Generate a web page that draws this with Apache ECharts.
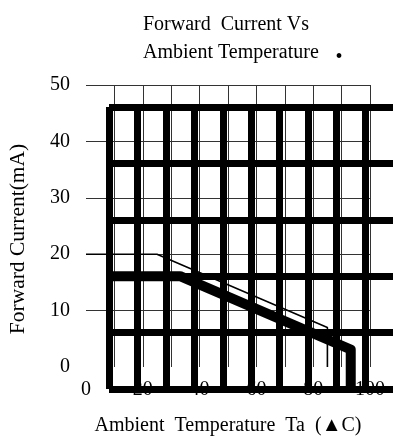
<!DOCTYPE html>
<html>
<head>
<meta charset="utf-8">
<script src="https://cdn.jsdelivr.net/npm/echarts@6/dist/echarts.min.js"></script>
<style>
  html, body {margin: 0; padding: 0; background: #fff;}
  #chart {width: 393px; height: 443px;}
</style>
</head>
<body>
<div id="chart"></div>
<script>
// derating curve: temperature (deg C) vs max forward current (mA)
const temps = [0, 25, 85, 85];
const currents = [20, 20, 7, 0];
const xLabelValues = [0, 20, 40, 60, 80, 100];

const font = 'Liberation Serif';
const curve = temps.map((t, i) => [t, currents[i]]);

const myChart = echarts.init(document.getElementById('chart'));
myChart.setOption({
  animation: false,
  title: {
    text: 'Forward  Current Vs\nAmbient Temperature',
    left: 138,
    top: 6,
    textStyle: {fontFamily: font, fontSize: 20, fontWeight: 'normal', color: '#000', lineHeight: 28}
  },
  graphic: [{
    type: 'text',
    style: {text: '•', x: 339, y: 58, align: 'center', verticalAlign: 'middle', fontSize: 20, fill: '#000', fontFamily: font}
  }],
  grid: [
    {left: 86, top: 85, width: 284, height: 282, outerBoundsMode: 'none'},
    {left: 109, top: 107, width: 284.4, height: 282, outerBoundsMode: 'none'}
  ],
  xAxis: [
    {
      gridIndex: 0, type: 'value', min: 0, max: 100, interval: 10, z: 1,
      axisLine: {show: false},
      axisTick: {show: false},
      splitLine: {show: true, showMinLine: false, lineStyle: {color: '#333', width: 1}},
      axisLabel: {
        margin: 13, fontFamily: font, fontSize: 20, color: '#000',
        formatter: v => xLabelValues.includes(v) ? String(v) : ''
      },
      name: 'Ambient  Temperature  Ta  (▲C)',
      nameLocation: 'middle', nameGap: 49,
      nameTextStyle: {fontFamily: font, fontSize: 20, color: '#000'}
    },
    {
      gridIndex: 1, type: 'value', min: 0, max: 100, interval: 10, z: 3,
      axisLine: {show: false},
      axisTick: {show: false},
      axisLabel: {show: false},
      splitLine: {show: true, showMaxLine: false, lineStyle: {color: '#000', width: 7}}
    }
  ],
  yAxis: [
    {
      gridIndex: 0, type: 'value', min: 0, max: 50, interval: 10, z: 1,
      axisLine: {show: false},
      axisTick: {show: false},
      splitLine: {show: true, showMinLine: false, lineStyle: {color: '#333', width: 1}},
      axisLabel: {margin: 16, fontFamily: font, fontSize: 20, color: '#000'},
      name: 'Forward Current(mA)',
      nameLocation: 'middle', nameGap: 57,
      nameTextStyle: {fontFamily: font, fontSize: 21.5, color: '#000', padding: [0, 26, 0, 0]}
    },
    {
      gridIndex: 1, type: 'value', min: 0, max: 50, interval: 10, z: 3,
      axisLine: {show: false},
      axisTick: {show: false},
      axisLabel: {show: false},
      splitLine: {show: true, lineStyle: {color: '#000', width: 7}}
    }
  ],
  series: [
    {
      type: 'line', xAxisIndex: 0, yAxisIndex: 0, z: 2,
      data: curve, symbol: 'none',
      lineStyle: {color: '#000', width: 1.6}
    },
    {
      type: 'line', xAxisIndex: 1, yAxisIndex: 1, z: 5,
      data: curve, symbol: 'none',
      lineStyle: {color: '#000', width: 10, join: 'round', cap: 'butt'}
    }
  ]
});
</script>
</body>
</html>
